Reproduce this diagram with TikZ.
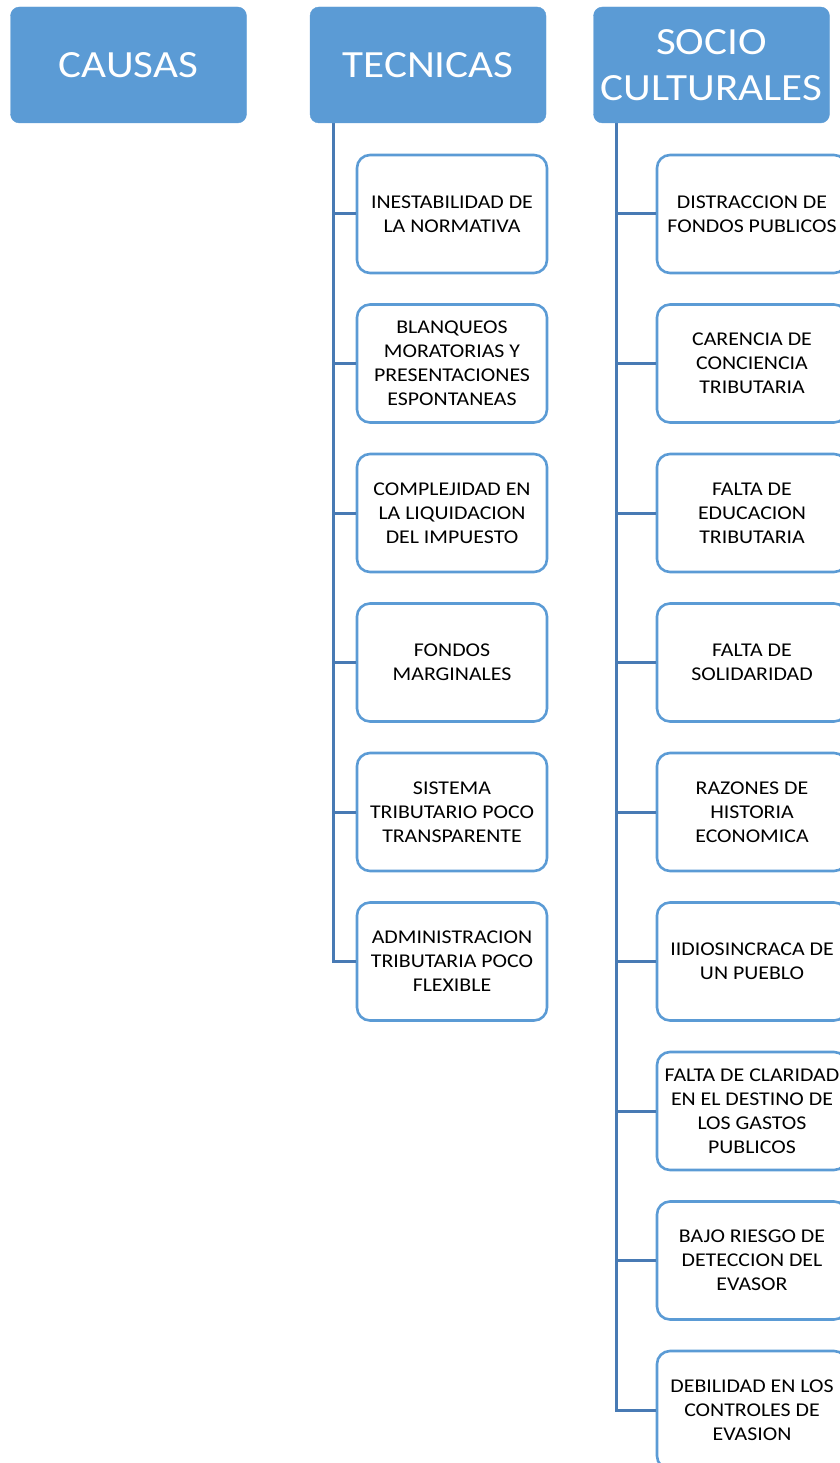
\documentclass[tikz,border=0pt]{standalone}
\usepackage{fontspec}
\setmainfont[FakeStretch=1.12]{Carlito}
\definecolor{cabecera}{RGB}{91,155,213}
\definecolor{linea}{RGB}{72,122,180}

\tikzset{
  cabeza/.style={draw=cabecera, fill=cabecera, rounded corners=9pt, minimum width=236pt, minimum height=116pt,
    inner sep=0pt, text=white, align=center, font=\fontsize{38.5}{46.5}\selectfont},
  hoja/.style={draw=cabecera, line width=2.6pt, fill=white, rounded corners=13pt, minimum width=190pt,
    minimum height=118pt, inner sep=0pt, align=center, font=\fontsize{19.5}{24}\selectfont},
  rama/.style={draw=linea, line width=3pt}
}

\begin{document}
\begin{tikzpicture}[x=1pt, y=-1pt]
\useasboundingbox (0,0) rectangle (839,1463);

% raices de las ramas
\coordinate (tecraiz) at (333,123);
\coordinate (socraiz) at (616,123);

% columna TECNICAS
\foreach \txt [count=\i] in {{INESTABILIDAD DE\\LA NORMATIVA},
    {BLANQUEOS\\MORATORIAS Y\\PRESENTACIONES\\ESPONTANEAS},
    {COMPLEJIDAD EN\\LA LIQUIDACION\\DEL IMPUESTO},
    {FONDOS\\MARGINALES},
    {SISTEMA\\TRIBUTARIO POCO\\TRANSPARENTE},
    {ADMINISTRACION\\TRIBUTARIA POCO\\FLEXIBLE}}
{
  \pgfmathsetmacro\yy{214+149.5*(\i-1)}
  \node[hoja] (t\i) at (452,\yy) {\txt};
  \draw[rama] (tecraiz) |- (t\i.west);
}

% columna SOCIO CULTURALES
\foreach \txt [count=\i] in {{DISTRACCION DE\\FONDOS PUBLICOS},
    {CARENCIA DE\\CONCIENCIA\\TRIBUTARIA},
    {FALTA DE\\EDUCACION\\TRIBUTARIA},
    {FALTA DE\\SOLIDARIDAD},
    {RAZONES DE\\HISTORIA\\ECONOMICA},
    {IIDIOSINCRACA DE\\UN PUEBLO},
    {FALTA DE CLARIDAD\\EN EL DESTINO DE\\LOS GASTOS\\PUBLICOS},
    {BAJO RIESGO DE\\DETECCION DEL\\EVASOR},
    {DEBILIDAD EN LOS\\CONTROLES DE\\EVASION}}
{
  \pgfmathsetmacro\yy{214+149.5*(\i-1)}
  \node[hoja] (s\i) at (752,\yy) {\txt};
  \draw[rama] (socraiz) |- (s\i.west);
}

% cabeceras
\node[cabeza] (causas) at (128.5,65) {CAUSAS};
\node[cabeza] (tec) at (428,65) {TECNICAS};
\node[cabeza] (soc) at (711.5,65) {SOCIO\\CULTURALES};

\end{tikzpicture}
\end{document}
